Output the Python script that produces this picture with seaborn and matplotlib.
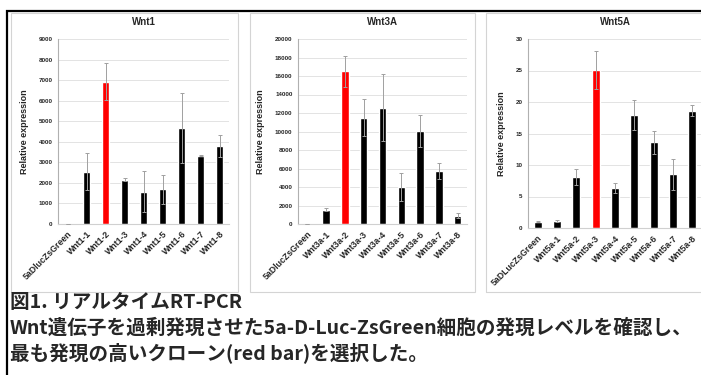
import matplotlib
matplotlib.use("Agg")
import matplotlib.pyplot as plt
from matplotlib.patches import Rectangle
import seaborn as sns

# データ
wnt1_labels = ["5aDlucZsGreen", "Wnt1-1", "Wnt1-2", "Wnt1-3", "Wnt1-4",
               "Wnt1-5", "Wnt1-6", "Wnt1-7", "Wnt1-8"]
wnt1_mean = [10, 2550, 6920, 2150, 1580, 1690, 4660, 3330, 3790]
wnt1_err = [5, 890, 890, 70, 1020, 700, 1700, 30, 540]

wnt3a_labels = ["5aDlucZsGreen", "Wnt3a-1", "Wnt3a-2", "Wnt3a-3", "Wnt3a-4",
                "Wnt3a-5", "Wnt3a-6", "Wnt3a-7", "Wnt3a-8"]
wnt3a_mean = [20, 1540, 16490, 11470, 12580, 4050, 10040, 5730, 900]
wnt3a_err = [10, 180, 1720, 2010, 3660, 1510, 1720, 900, 280]

wnt5a_labels = ["5aDLucZsGreen", "Wnt5a-1", "Wnt5a-2", "Wnt5a-3", "Wnt5a-4",
                "Wnt5a-5", "Wnt5a-6", "Wnt5a-7", "Wnt5a-8"]
wnt5a_mean = [1.0, 1.1, 8.1, 25.1, 6.4, 17.9, 13.6, 8.5, 18.6]
wnt5a_err = [0.1, 0.2, 1.3, 3.0, 0.8, 2.4, 1.8, 2.5, 0.9]

titles = ["Wnt1", "Wnt3A", "Wnt5A"]
highlight = [2, 2, 3]
y_max = [9000, 20000, 30]
y_step = [1000, 2000, 5]

caption = ["図1. リアルタイムRT-PCR",
           "Wnt遺伝子を過剰発現させた5a-D-Luc-ZsGreen細胞の発現レベルを確認し、",
           "最も発現の高いクローン(red bar)を選択した。"]

sns.set_style("white")
plt.rcParams["font.family"] = ["Liberation Sans", "Noto Sans CJK JP", "DejaVu Sans"]

W, H = 701, 375
fig = plt.figure(figsize=(W / 100, H / 100), dpi=100)


def px_box(x0, y0, x1, y1):
    # ピクセル座標 -> figure座標
    return [x0 / W, 1 - y1 / H, (x1 - x0) / W, (y1 - y0) / H]


# 外枠と各パネルの枠
fig.add_artist(Rectangle((7 / W, -0.1), 1.0, 1 - 11 / H + 0.1, transform=fig.transFigure,
                         fill=False, edgecolor="black", linewidth=1.6))
for x0, x1 in [(11, 238), (250, 475), (486, 720)]:
    b = px_box(x0, 13, x1, 292)
    fig.add_artist(Rectangle((b[0], b[1]), b[2], b[3], transform=fig.transFigure,
                             fill=False, edgecolor="#d4d4d4", linewidth=0.8))

axes_px = [(58, 39, 229, 224), (298, 39, 467, 224), (528, 39, 702, 228)]
data = [(wnt1_labels, wnt1_mean, wnt1_err),
        (wnt3a_labels, wnt3a_mean, wnt3a_err),
        (wnt5a_labels, wnt5a_mean, wnt5a_err)]

for i, (labels, mean, err) in enumerate(data):
    ax = fig.add_axes(px_box(*axes_px[i]))
    colors = ["#ff0000" if j == highlight[i] else "black" for j in range(len(labels))]
    sns.barplot(x=labels, y=mean, hue=labels, palette=colors, legend=False,
                width=0.4, ax=ax, saturation=1, zorder=2)
    ax.errorbar(range(len(labels)), mean, yerr=err, fmt="none", ecolor="#a0a0a0",
                elinewidth=0.7, capsize=1.5, capthick=0.7, zorder=3)

    ax.set_ylim(0, y_max[i])
    ax.set_xlim(-0.5, len(labels) - 0.5)
    ax.set_yticks(range(0, y_max[i] + 1, y_step[i]))
    ax.grid(axis="y", color="#e3e3e3", linewidth=0.7, zorder=0)
    ax.set_axisbelow(True)
    for s in ["top", "right"]:
        ax.spines[s].set_visible(False)
    ax.spines["left"].set_color("#b0b0b0")
    ax.spines["bottom"].set_color("#d0d0d0")
    ax.spines["left"].set_linewidth(0.8)
    ax.spines["bottom"].set_linewidth(0.8)
    ax.tick_params(length=0, pad=4)
    for t in ax.get_yticklabels():
        t.set_fontsize(4.5)
        t.set_fontweight("bold")
    ax.set_xticks(range(len(labels)))
    ax.set_xticklabels(labels, rotation=45, ha="right", rotation_mode="anchor",
                       fontsize=6.3, fontweight="bold")
    ax.set_title(titles[i], fontsize=7, fontweight="bold", pad=10)
    ax.set_ylabel("Relative expression", fontsize=6.5, fontweight="bold", labelpad=7)
    ax.set_xlabel("")

# キャプション
for k, line in enumerate(caption):
    fig.text(10 / W, 1 - (303 + 25 * k) / H, line, fontsize=14.1, fontweight="bold",
             family=["Noto Sans CJK JP", "DejaVu Sans"], va="center", ha="left")

fig.savefig("out.png", dpi=100)
